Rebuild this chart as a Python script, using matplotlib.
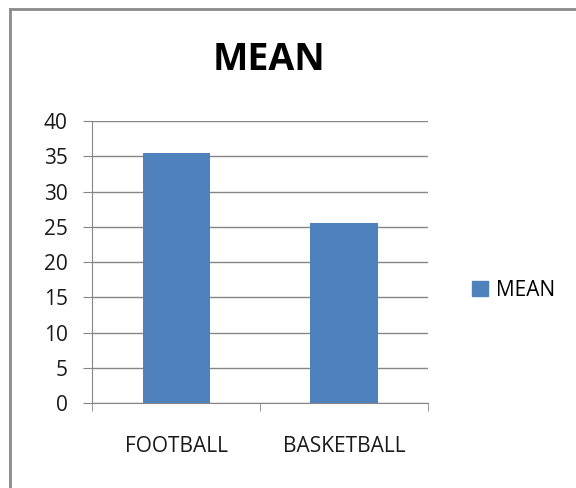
import matplotlib
matplotlib.use("Agg")
import matplotlib.pyplot as plt
from matplotlib.lines import Line2D
from matplotlib.patches import Patch

# data
categories = ["FOOTBALL", "BASKETBALL"]
mean_values = [35.4, 25.5]
y_ticks = [0, 5, 10, 15, 20, 25, 30, 35, 40]

plt.rcParams['font.family'] = ['Open Sans', 'DejaVu Sans']

fig = plt.figure(figsize=(5.76, 4.88), dpi=100)
ax = fig.add_axes([0.16, 0.174, 0.583, 0.578])

bar_color = "#4f81bd"
ax.bar(range(len(categories)), mean_values, width=0.4, color=bar_color, zorder=3)

ax.set_xlim(-0.5, len(categories) - 0.5)
ax.set_ylim(0, 40)
ax.set_yticks(y_ticks)
ax.tick_params(axis='y', labelsize=15, length=6.5, color="#868686", pad=11, labelcolor="#1a1a1a")

# category labels in middle, tick marks on boundaries
ax.set_xticks(range(len(categories)))
ax.set_xticklabels(categories)
ax.tick_params(axis='x', which='major', length=0, labelsize=15, pad=24, labelcolor="#1a1a1a")
ax.set_xticks([-0.5, 0.5, 1.5], minor=True)
ax.tick_params(axis='x', which='minor', length=6, color="#868686")

ax.grid(axis='y', color="#868686", linewidth=1, zorder=0)
for s in ["top", "right"]:
    ax.spines[s].set_visible(False)
for s in ["left", "bottom"]:
    ax.spines[s].set_color("#868686")

fig.text(0.467, 0.878, "MEAN", ha='center', va='center', fontsize=27, fontweight='bold')

ax.legend(handles=[Patch(color=bar_color, label="MEAN")], loc='center left',
          bbox_to_anchor=(1.076, 0.40), frameon=False, fontsize=15,
          handlelength=0.75, handleheight=0.75, handletextpad=0.4)

# chart border (left and top visible)
fig.add_artist(Line2D([0.017, 0.017], [0.0, 0.982], color="#8a8a8a", linewidth=2, transform=fig.transFigure))
fig.add_artist(Line2D([0.017, 1.0], [0.982, 0.982], color="#8a8a8a", linewidth=2, transform=fig.transFigure))

fig.savefig("out.png", dpi=100)
